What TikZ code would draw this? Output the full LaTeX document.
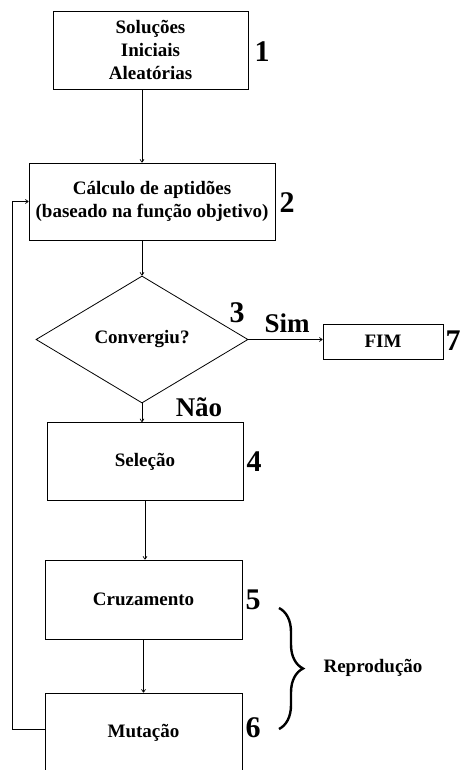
\documentclass[tikz,border=0pt]{standalone}
\usepackage{fontspec}
\setmainfont{Liberation Serif}
\usepackage{tikz}
\usetikzlibrary{arrows.meta,shapes.geometric,decorations.pathreplacing}

\begin{document}
\begin{tikzpicture}[x=1pt,y=1pt,yscale=-1,xscale=1,
  stepbox/.style={draw,line width=0.8pt,rectangle,inner sep=0pt,align=center,font=\fontsize{19}{23}\selectfont\bfseries},
  numlabel/.style={inner sep=0pt,font=\fontsize{30}{30}\selectfont\bfseries},
  answer/.style={inner sep=0pt,font=\fontsize{27}{27}\selectfont\bfseries},
  flow/.style={line width=0.7pt,-{To[length=3.5pt,width=4.5pt]}}]
\useasboundingbox (0,0) rectangle (461,770);

%Shape: Rectangle
\node[stepbox,minimum width=195pt,minimum height=78pt] (init) at (150.5,50) {Soluções\\Iniciais\\Aleatórias};
%Shape: Rectangle
\node[stepbox,minimum width=246pt,minimum height=77pt] (fitness) at (152,201.5) {Cálculo de aptidões\\(baseado na função objetivo)};
%Shape: Diamond
\node[stepbox,diamond,minimum width=212pt,minimum height=127pt] (conv) at (142,339.5) {Convergiu?};
%Shape: Rectangle
\node[stepbox,minimum width=120pt,minimum height=35pt] (fim) at (383,341.5) {FIM};
%Shape: Rectangle
\node[stepbox,minimum width=196pt,minimum height=78pt] (sel) at (145,461.5) {Seleção};
%Shape: Rectangle
\node[stepbox,minimum width=197pt,minimum height=79pt] (cross) at (143.5,599.5) {Cruzamento};
%Shape: Rectangle
\node[stepbox,minimum width=197pt,minimum height=79pt] (mut) at (143.5,732.5) {Mutação};

%Straight Lines
\draw[flow] (init.south -| conv.north) -- (fitness.north -| conv.north);
\draw[flow] (fitness.south -| conv.north) -- (conv.north);
\draw[flow] (conv.east) -- (conv.east -| fim.west);
\draw[flow] (conv.south) -- (sel.north -| conv.south);
\draw[flow] (sel.south) -- (cross.north -| sel.south);
\draw[flow] (cross.south) -- (mut.north -| cross.south);
%Feedback line
\coordinate (back) at (12,729);
\draw[flow] (mut.west |- back) -- (back) |- (fitness.west);

%Brace
\draw[line width=2.4pt,decorate,decoration={brace,amplitude=24pt}] (279,608) -- (279,729);

% Text Node
\node[numlabel] (n1) at (262,52) {1};
% Text Node
\node[numlabel] (n2) at (287,203) {2};
% Text Node
\node[numlabel] (n3) at (237,313) {3};
% Text Node
\node[answer] (yes) at (287,323) {Sim};
% Text Node
\node[numlabel] (n7) at (453,341) {7};
% Text Node
\node[answer] (no) at (199,407) {Não};
% Text Node
\node[numlabel] (n4) at (254,462) {4};
% Text Node
\node[numlabel] (n5) at (253,600) {5};
% Text Node
\node[numlabel] (n6) at (253,728) {6};
% Text Node
\node[inner sep=0pt,font=\fontsize{19}{19}\selectfont\bfseries] (repro) at (373,668) {Reprodução};

\end{tikzpicture}
\end{document}
